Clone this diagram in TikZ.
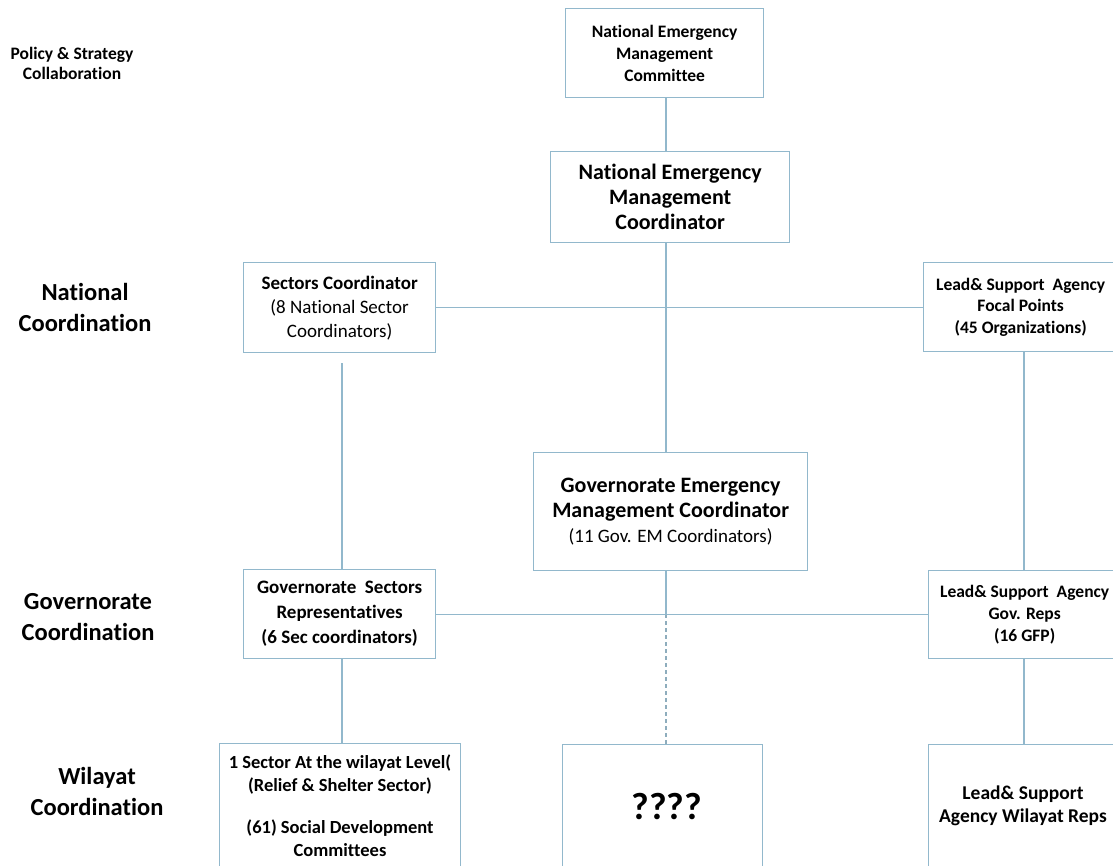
\documentclass[tikz,border=0pt]{standalone}
\usepackage{fontspec}
\setmainfont{Carlito}[Ligatures=NoCommon]
\definecolor{lineblue}{RGB}{146,184,204}
\newcommand\fsz[2]{\fontsize{#1}{#2}\selectfont}
\begin{document}
\begin{tikzpicture}[x=1pt,y=-1pt,
  box/.style={draw=lineblue, line width=1.3pt, fill=white, align=center,
    inner sep=0pt, anchor=north west},
  label/.style={align=center, inner sep=0pt, font=\bfseries},
  link/.style={draw=lineblue, line width=1.3pt},
  dashlink/.style={draw=lineblue!80!gray, line width=1.3pt, dash pattern=on 4pt off 3pt}]
\useasboundingbox (0,0) rectangle (1113,865);
\clip (0,0) rectangle (1113,865);
\fill[white] (0,0) rectangle (1113,865);

% level labels
\node[label, font=\bfseries\fsz{17.5}{20}] (pol) at (72,63) {Policy \& Strategy\\Collaboration};
\node[label, font=\bfseries\fsz{24.5}{31}] (nat) at (85,307) {National\\Coordination};
\node[label, font=\bfseries\fsz{24.5}{31}] (gov) at (88,617) {Governorate\\Coordination};
\node[label, font=\bfseries\fsz{24.5}{31}] (wil) at (97,791) {Wilayat\\Coordination};

% national level
\node[box, minimum width=198pt, minimum height=89pt, font=\bfseries\fsz{17.5}{22}]
  (nemc) at (565,8) {National Emergency\\Management\\Committee};
\node[box, minimum width=239pt, minimum height=91pt, font=\bfseries\fsz{22}{25}]
  (nemco) at (550,151) {National Emergency\\Management\\Coordinator};
\node[box, minimum width=192pt, minimum height=90pt, font=\fsz{19}{24}]
  (sec) at (243,262) {\bfseries Sectors Coordinator\\(8 National Sector\\Coordinators)};
\node[box, minimum width=194pt, minimum height=89pt, font=\bfseries\fsz{17.5}{21.7}]
  (focal) at (923,262) {Lead\& Support\ \ Agency\\Focal Points\\(45 Organizations)};

% governorate level
\node[box, minimum width=274pt, minimum height=118pt, font=\fsz{22}{25}]
  (gem) at (533,452) {\bfseries Governorate Emergency\\\bfseries Management Coordinator\\\fsz{19}{27}(11 Gov. EM Coordinators)};
\node[box, minimum width=192pt, minimum height=89pt, font=\bfseries\fsz{19}{25}]
  (gsr) at (243,569) {Governorate\ \ Sectors\\Representatives\\(6 Sec coordinators)};
\node[box, minimum width=192pt, minimum height=88pt, font=\bfseries\fsz{17.5}{21.7}]
  (grep) at (928,570) {Lead\& Support\ \ Agency\\Gov. Reps\\(16 GFP)};

% wilayat level
\node[box, minimum width=241pt, minimum height=140pt] (wsec) at (219,743) {};
\node[label, font=\bfseries\fsz{18.5}{23}] (wsect) at (340,806)
  {1 Sector At the wilayat Level(\\(Relief \& Shelter Sector)\\[19pt](61) Social Development\\Committees};
\node[box, minimum width=200pt, minimum height=140pt] (qq) at (562,744) {};
\node[label, font=\bfseries\fsz{38}{40}] (qqt) at (667,806) {????};
\node[box, minimum width=192pt, minimum height=140pt] (wrep) at (928,744) {};
\node[label, font=\bfseries\fsz{19.5}{23}] (wrept) at (1023,806) {Lead\& Support\\Agency Wilayat Reps};

% connector columns
\coordinate (spine) at (666,0);
\coordinate (lspine) at (342,0);
\coordinate (rspine) at (1024,0);

\draw[link] (spine |- nemc.south) -- (spine |- nemco.north);
\draw[link] (spine |- nemco.south) -- (spine |- gem.north);
\draw[link] (spine |- gem.south) -- (spine |- gsr.east);
\draw[dashlink] (spine |- gsr.east) -- (spine |- qq.north);

\draw[link] (sec.east) -- (sec.east -| focal.west);
\draw[link] (gsr.east) -- (gsr.east -| grep.west);

\draw[link, shorten <=10pt] (lspine |- sec.south) -- (lspine |- gsr.north);
\draw[link] (lspine |- gsr.south) -- (lspine |- wsec.north);
\draw[link] (rspine |- focal.south) -- (rspine |- grep.north);
\draw[link] (rspine |- grep.south) -- (rspine |- wrep.north);
\end{tikzpicture}
\end{document}
